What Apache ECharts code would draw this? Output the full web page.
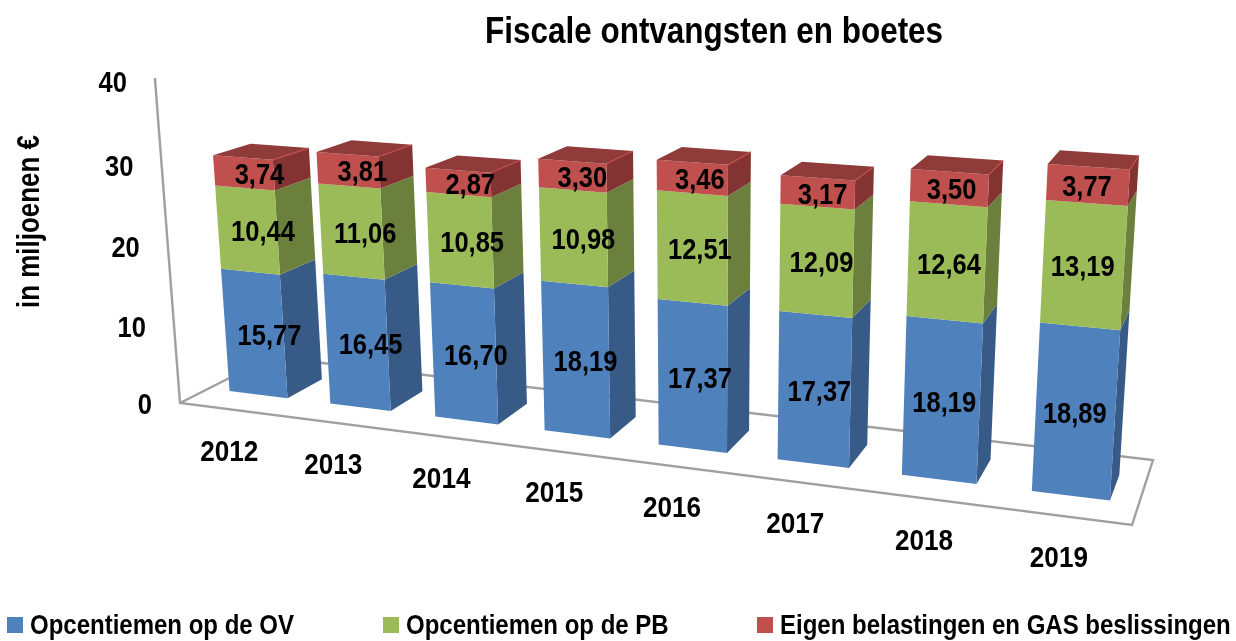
<!DOCTYPE html>
<html><head><meta charset="utf-8">
<style>html,body{margin:0;padding:0;background:#fff}#c{width:1236px;height:641px}</style>
<script src="https://cdn.jsdelivr.net/npm/echarts@6/dist/echarts.min.js"></script></head>
<body><div id="c"></div>
<script>
const years = ['2012','2013','2014','2015','2016','2017','2018','2019'];
const ovValues = [15.77,16.45,16.70,18.19,17.37,17.37,18.19,18.89];
const pbValues = [10.44,11.06,10.85,10.98,12.51,12.09,12.64,13.19];
const eigenValues = [3.74,3.81,2.87,3.30,3.46,3.17,3.50,3.77];
const yTicks = [0,10,20,30,40];
const seriesNames = ['Opcentiemen op de OV','Opcentiemen op de PB','Eigen belastingen en GAS beslissingen'];
const titleText = 'Fiscale ontvangsten en boetes';
const yAxisName = 'in miljoenen €';
const FONT = '"Liberation Sans",Arial,sans-serif';
const SQUEEZE = 0.85;

// perspective of the 3-D box: floor corners and the vanishing point of verticals
const F = {p0:[180,403],p1:[1132,525],p2:[1153,460],p3:[271,357]};
const V = [705,7200], K = -0.04563;
const dx1=F.p1[0]-F.p2[0],dx2=F.p3[0]-F.p2[0],sx=F.p0[0]-F.p1[0]+F.p2[0]-F.p3[0];
const dy1=F.p1[1]-F.p2[1],dy2=F.p3[1]-F.p2[1],sy=F.p0[1]-F.p1[1]+F.p2[1]-F.p3[1];
const det=dx1*dy2-dx2*dy1, G=(sx*dy2-dx2*sy)/det, H=(dx1*sy-sx*dy1)/det;
const A=F.p1[0]-F.p0[0]+G*F.p1[0], B=F.p3[0]-F.p0[0]+H*F.p3[0];
const D=F.p1[1]-F.p0[1]+G*F.p1[1], E=F.p3[1]-F.p0[1]+H*F.p3[1];
function proj(u,v,w){
  const d=1+G*u+H*w+K*v;
  return [(A*u+B*w+K*V[0]*v+F.p0[0])/d,(D*u+E*w+K*V[1]*v+F.p0[1])/d];
}
const BAR_W=0.58, W0=0.30, W1=0.70, LABEL_W=0.47;
function uv(api,params,cat,val){
  const c=api.coord([cat,val]), s=params.coordSys;
  return [(c[0]-s.x)/s.width,(s.y+s.height-c[1])/s.height];
}
function poly(pts,fill){return {type:'polygon',shape:{points:pts},style:{fill:fill}};}
function label(text,x,y,align,z2,sq){
  return {type:'text',x:x,y:y,scaleX:sq||SQUEEZE,z2:z2||0,style:{text:text,x:0,y:0,align:align||'center',verticalAlign:'middle',fill:'#000',font:'bold 30px '+FONT}};
}
function segment(colors,isTop){
  return function(params,api){
    const i=api.value(0), a=api.value(1), b=api.value(2), val=api.value(3);
    const s=params.coordSys, half=BAR_W*api.size([1,0])[0]/s.width/2;
    const [uc,v0]=uv(api,params,i,a), [,v1]=uv(api,params,i,b);
    const ul=uc-half, ur=uc+half;
    const kids=[
      poly([proj(ur,v0,W0),proj(ur,v0,W1),proj(ur,v1,W1),proj(ur,v1,W0)],colors[1]),
      poly([proj(ul,v0,W0),proj(ur,v0,W0),proj(ur,v1,W0),proj(ul,v1,W0)],colors[0])
    ];
    if(isTop){
      kids.push(poly([proj(ul,v1,W0),proj(ur,v1,W0),proj(ur,v1,W1),proj(ul,v1,W1)],colors[2]));
      kids.push({type:'polyline',shape:{points:[proj(ur,v1,W0),proj(ur,v1,W1)]},style:{stroke:colors[0],lineWidth:1.2,fill:null}});
    }
    const lx=proj(uc*0.995,(v0+v1)/2,LABEL_W)[0], ly=proj(uc,(v0+v1)/2,W0)[1]+3;
    kids.push(label(val.toFixed(2).replace('.',','),lx,ly,'center',20));
    return {type:'group',children:kids};
  };
}
function stackData(vals,prev){return years.map((y,i)=>[i,prev[i],prev[i]+vals[i],vals[i]]);}
const zero=years.map(()=>0);
const base2=ovValues.map((v,i)=>v+pbValues[i]);

const frameSeries={type:'custom',silent:true,coordinateSystem:'cartesian2d',data:[[0,0]],
  renderItem:function(){
    return {type:'polyline',shape:{points:[proj(0,1,0),proj(0,0,0),proj(1,0,0),proj(1,0,1),proj(0,0,1),proj(0,0,0)]},
      style:{stroke:'#A0A0A0',lineWidth:2.4,fill:null}};
  }};
const tickSeries={type:'custom',silent:true,coordinateSystem:'cartesian2d',data:yTicks.map(t=>[0,t]),
  renderItem:function(params,api){
    const s=params.coordSys, v=(s.y+s.height-api.coord([0,api.value(1)])[1])/s.height;
    const p=proj(0,v,0);
    return label(String(api.value(1)),p[0]-28,p[1]+3+3*v,'right');
  }};
const catSeries={type:'custom',silent:true,coordinateSystem:'cartesian2d',data:years.map((y,i)=>[i,0]),
  renderItem:function(params,api){
    const i=api.value(0), u=uv(api,params,i,0)[0], p=proj(u*0.998,0,0);
    return label(years[i],p[0]-1,p[1]+43,'center',0,0.87);
  }};

const legendBase={orient:'horizontal',icon:'rect',itemWidth:16,itemHeight:16,itemGap:0,selectedMode:false,top:617,padding:0,
  formatter:()=>'',textStyle:{fontSize:1}};
const legendLeft=[7,383,757], legendTextX=[30,406,780];
function legendText(name,i){
  return {type:'text',x:legendTextX[i],y:626,scaleX:0.857,style:{text:name,x:0,y:0,align:'left',verticalAlign:'middle',fill:'#000',font:'bold 28px '+FONT}};
}
const chart=echarts.init(document.getElementById('c'),null,{renderer:'canvas'});
chart.setOption({
  animation:false,backgroundColor:'#fff',
  legend:seriesNames.map((n,i)=>Object.assign({},legendBase,{left:legendLeft[i],data:[n]})),
  graphic:[
    {type:'text',x:485,y:33,scaleX:0.874,style:{text:titleText,x:0,y:0,align:'left',verticalAlign:'middle',fill:'#000',font:'bold 36px '+FONT}},
    {type:'text',x:30,y:221.5,rotation:Math.PI/2,scaleX:0.81,style:{text:yAxisName,x:0,y:0,align:'center',verticalAlign:'middle',fill:'#000',font:'bold 32px '+FONT}}
  ].concat(seriesNames.map(legendText)),
  grid:{left:180,width:952,top:78,height:325},
  xAxis:{type:'category',data:years,axisLine:{show:false},axisTick:{show:false},axisLabel:{show:false},splitLine:{show:false}},
  yAxis:{type:'value',min:0,max:40,interval:10,axisLine:{show:false},axisTick:{show:false},axisLabel:{show:false},splitLine:{show:false}},
  series:[
    frameSeries,tickSeries,catSeries,
    {type:'custom',name:seriesNames[0],itemStyle:{color:'#4F81BD'},renderItem:segment(['#4F81BD','#385A86'],false),data:stackData(ovValues,zero),encode:{x:0,y:2}},
    {type:'custom',name:seriesNames[1],itemStyle:{color:'#9BBB59'},renderItem:segment(['#9BBB59','#6A803C'],false),data:stackData(pbValues,ovValues),encode:{x:0,y:2}},
    {type:'custom',name:seriesNames[2],itemStyle:{color:'#C0504D'},renderItem:segment(['#C0504D','#833331','#8F3B39'],true),data:stackData(eigenValues,base2),encode:{x:0,y:2}}
  ]
});
</script></body></html>
